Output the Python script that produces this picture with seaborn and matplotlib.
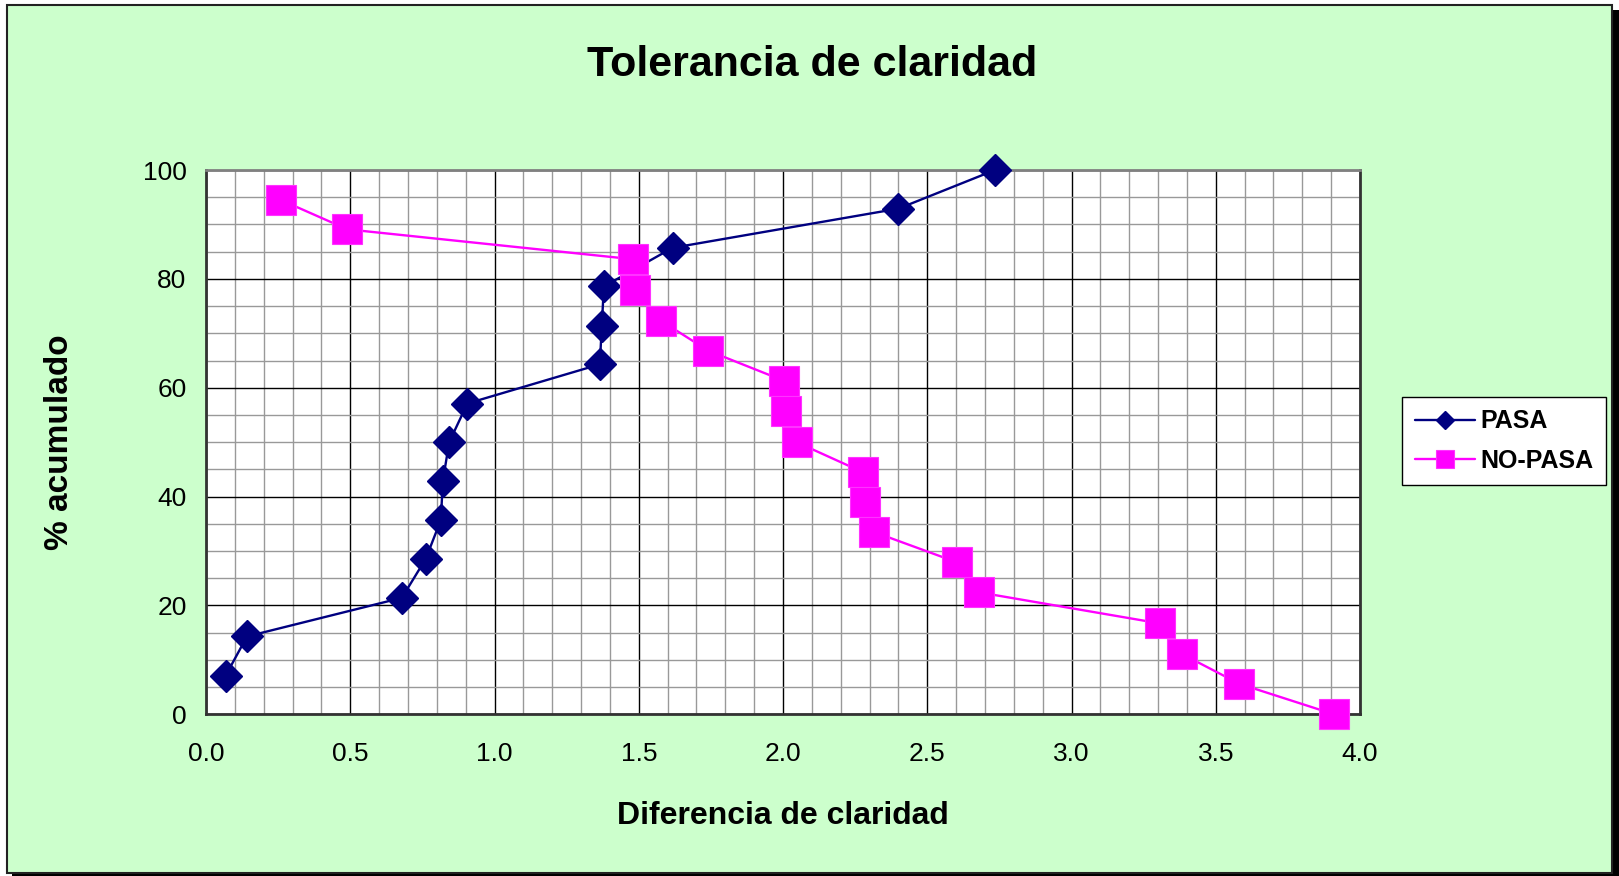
import pandas as pd
import matplotlib
matplotlib.use("Agg")
import matplotlib.pyplot as plt
from matplotlib.patches import Rectangle
from matplotlib.ticker import MultipleLocator
import seaborn as sns

# data
pasa_x = [0.068, 0.142, 0.679, 0.762, 0.814, 0.821, 0.843, 0.906, 1.365, 1.372, 1.379, 1.617, 2.400, 2.735]
pasa_y = [7.1, 14.3, 21.4, 28.6, 35.7, 42.9, 50.0, 57.1, 64.3, 71.4, 78.6, 85.7, 92.9, 100.0]

nopasa_x = [0.259, 0.490, 1.481, 1.488, 1.577, 1.741, 2.002, 2.010, 2.047, 2.276, 2.284, 2.315,
            2.604, 2.680, 3.306, 3.382, 3.582, 3.910]
nopasa_y = [94.5, 89.1, 83.6, 77.9, 72.3, 66.8, 61.3, 55.7, 50.0, 44.5, 39.0, 33.5,
            27.9, 22.4, 16.7, 11.1, 5.6, 0.0]

title = "Tolerancia de claridad"
xlabel = "Diferencia de claridad"
ylabel = "% acumulado"

sns.set_style("white")
plt.rcParams['font.family'] = ['Liberation Sans', 'DejaVu Sans']
plt.rcParams['text.color'] = 'black'
plt.rcParams['axes.labelcolor'] = 'black'
plt.rcParams['xtick.color'] = 'black'
plt.rcParams['ytick.color'] = 'black'

W, H = 1619, 876
fig = plt.figure(figsize=(W / 100, H / 100), dpi=100, facecolor="white")

# outer chart frame with shadow, Excel style
fig.patches.append(Rectangle((12 / W, 0), 1 - 12 / W, 1 - 10 / H, transform=fig.transFigure,
                             facecolor="black", edgecolor="none", zorder=-3))
fig.patches.append(Rectangle((7 / W, 1 - 873 / H), (1612 - 7) / W, (873 - 5) / H,
                             transform=fig.transFigure, facecolor="#ccffcc",
                             edgecolor="#222222", linewidth=1.5, zorder=-2))

ax = fig.add_axes([206 / W, 1 - 714.3 / H, (1360 - 206) / W, (714.3 - 170) / H])
ax.set_zorder(2)
ax.set_facecolor("white")

df_pasa = pd.DataFrame({"x": pasa_x, "y": pasa_y})
df_nop = pd.DataFrame({"x": nopasa_x, "y": nopasa_y})

sns.lineplot(data=df_pasa, x="x", y="y", ax=ax, color="#000080", marker="D", markersize=16,
             markeredgecolor="#000080", markeredgewidth=1, linewidth=1.7,
             estimator=None, sort=False, label="PASA")
sns.lineplot(data=df_nop, x="x", y="y", ax=ax, color="#ff00ff", marker="s", markersize=21,
             markeredgecolor="#ff33ff", markeredgewidth=0.8, linewidth=1.7,
             estimator=None, sort=False, label="NO-PASA")
for ln in ax.lines:
    ln.set_clip_on(False)
    ln.set_zorder(5)

ax.set_xlim(0, 4)
ax.set_ylim(0, 100)
ax.xaxis.set_major_locator(MultipleLocator(0.5))
ax.xaxis.set_minor_locator(MultipleLocator(0.1))
ax.yaxis.set_major_locator(MultipleLocator(20))
ax.yaxis.set_minor_locator(MultipleLocator(5))
ax.xaxis.set_major_formatter(plt.FormatStrFormatter("%.1f"))
ax.set_axisbelow(True)
ax.grid(which="minor", color="#999999", linewidth=1.0)
ax.grid(which="major", color="black", linewidth=1.0)
ax.tick_params(which="both", length=0, labelsize=19, colors="black")
ax.tick_params(axis="y", pad=14)
ax.tick_params(axis="x", pad=20)

for side in ["left", "bottom", "right"]:
    ax.spines[side].set_color("#333333")
    ax.spines[side].set_linewidth(2)
ax.spines["top"].set_color("#808080")
ax.spines["top"].set_linewidth(2)

ax.set_xlabel("")
ax.set_ylabel("")
fig.text(783 / W, 1 - 815.7 / H, xlabel, ha="center", va="center", fontsize=23, fontweight="bold")
fig.text(59 / W, 1 - 441.7 / H, ylabel, ha="center", va="center", rotation=90,
         fontsize=24, fontweight="bold")
fig.text(811.7 / W, 1 - 65 / H, title, ha="center", va="center", fontsize=31, fontweight="bold")

ax.get_legend().remove()
handles, labels = ax.get_legend_handles_labels()
leg = fig.legend(handles, labels, loc="center", bbox_to_anchor=(1504 / W, 1 - 441 / H),
                 bbox_transform=fig.transFigure, frameon=True, fancybox=False,
                 edgecolor="black", facecolor="white", framealpha=1, handlelength=2.4,
                 handletextpad=0.2, borderpad=0.5, borderaxespad=0, labelspacing=0.6,
                 markerscale=0.6, prop={"weight": "bold", "size": 18})
leg.get_frame().set_linewidth(1.0)
leg.set_zorder(3)

fig.savefig("out.png", dpi=100, facecolor=fig.get_facecolor())
